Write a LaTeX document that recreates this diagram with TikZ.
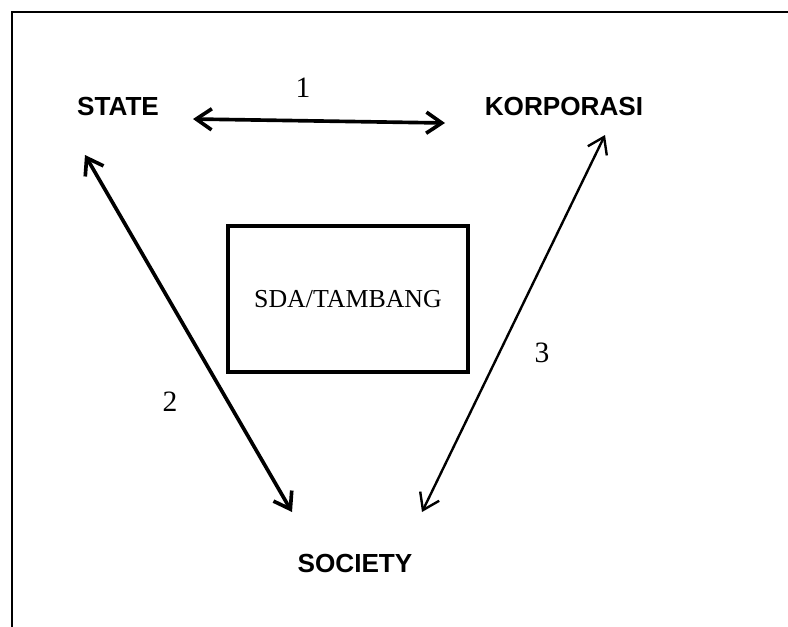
\documentclass[tikz,border=0pt]{standalone}
\usepackage{fontspec}
\setmainfont{Liberation Serif}
\setsansfont{Liberation Sans}
\usetikzlibrary{arrows.meta,calc,positioning}
\tikzset{
  actor/.style  = {inner sep=0pt, font=\fontsize{18.6}{21}\selectfont\sffamily\bfseries},
  resource/.style = {draw, line width=2.2pt, minimum width=240*0.025cm, minimum height=146*0.025cm,
                   font=\fontsize{18.4}{21}\selectfont},
  num/.style    = {inner sep=0pt, font=\fontsize{21}{24}\selectfont},
  link/.style   = {line width=2.6pt, {Straight Barb[length=11pt,width=15pt]}-{Straight Barb[length=11pt,width=15pt]}}
}
\begin{document}
\begin{tikzpicture}[x=0.025cm,y=-0.025cm]
\useasboundingbox (0,0) rectangle (788,626);
\clip (0,0) rectangle (788,626);
\draw[line width=1.6pt] (12,12) rectangle (820,660);

\node[actor] (state) at (118,106.5) {STATE};
\node[actor] (korp) at (564,106) {KORPORASI};
\node[actor] (society) at (355,563) {SOCIETY};
\node[resource] (sda) at (348,299) {SDA/TAMBANG};

\draw[link] ($(state)+(75,12.5)$) -- ($(korp)+(-119,17)$);
\draw[link] ($(state)+(-33,48.5)$) -- ($(society)+(-63,-51)$);
\draw[link, line width=1.7pt] ($(korp)+(41,29)$) -- ($(society)+(67,-51)$);

\node[num] (n1) at (303,88) {1};
\node[num] (n2) at (170,402) {2};
\node[num] (n3) at (542,353) {3};
\end{tikzpicture}
\end{document}
